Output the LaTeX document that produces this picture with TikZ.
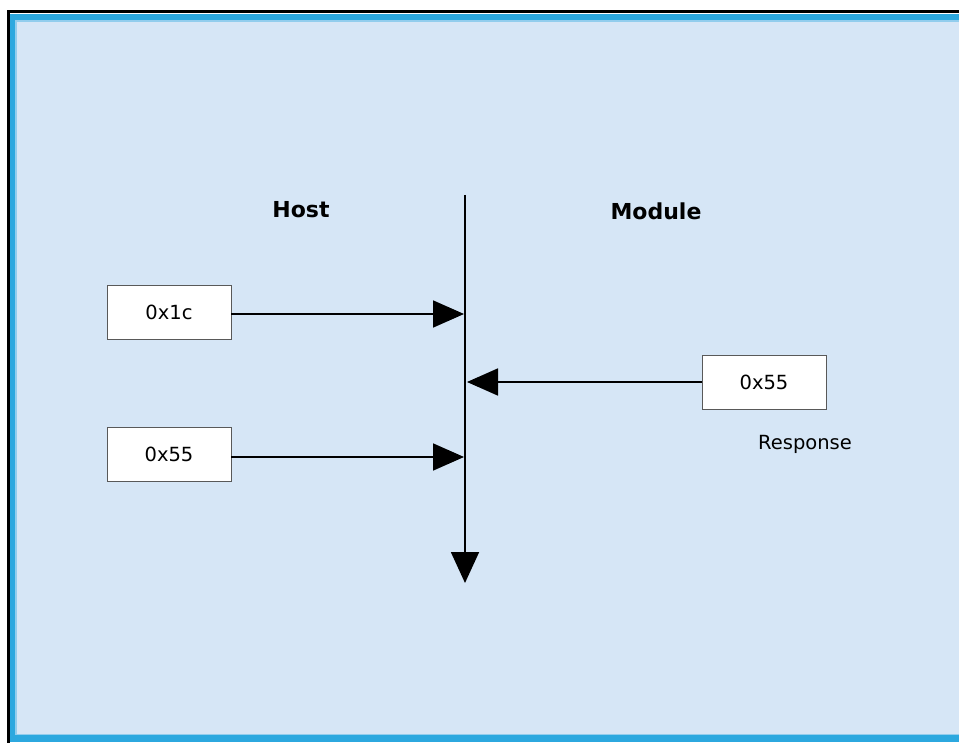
\documentclass[tikz,border=0pt]{standalone}
\usepackage{fontspec}
\setmainfont{DejaVu Sans}
\usetikzlibrary{arrows.meta}
\definecolor{bgfill}{HTML}{D6E6F6}
\definecolor{rimblue}{HTML}{2CA8DF}
\tikzset{
  valbox/.style={draw=black!65, line width=0.9pt, fill=white, minimum width=124pt, minimum height=54pt, inner sep=0pt, font=\fontsize{19.5}{22}\selectfont},
  head/.style={font=\bfseries\fontsize{22}{25}\selectfont},
  lbl/.style={font=\fontsize{19.5}{22}\selectfont},
  msg/.style={draw=black, line width=1.8pt, -{Triangle[length=31pt,width=27pt]}},
}
\begin{document}
\begin{tikzpicture}[x=1pt,y=-1pt]
\useasboundingbox (0,0) rectangle (959,743);
% background
\fill[white] (0,0) rectangle (959,743);
\fill[rimblue] (10,14.5) rectangle (959,741.5);
\fill[rimblue!40!bgfill] (15,20) rectangle (959,735);
\fill[bgfill] (16.5,22) rectangle (959,733.5);
\draw[black, line width=2.5pt] (8.5,743) -- (8.5,11.5) -- (959,11.5);
% timeline
\coordinate (ttop) at (465,195);
\coordinate (tbot) at (465,583);
\draw[draw=black, line width=1.8pt, -{Triangle[length=31pt,width=28pt]}] (ttop) -- (tbot);
\coordinate (t1) at (464,314);
\coordinate (t2) at (467,382);
\coordinate (t3) at (464,457);
% labels
\node[head] (host) at (301,210) {Host};
\node[head] (module) at (656,211) {Module};
% boxes
\node[valbox] (b1) at (169,312) {0x1c};
\node[valbox] (b2) at (169,454) {0x55};
\node[valbox] (b3) at (764,382.5) {0x55};
\node[lbl] (resp) at (805,444) {Response};
% arrows
\draw[msg] (b1.east |- t1) -- (t1);
\draw[msg] (b3.west |- t2) -- (t2);
\draw[msg] (b2.east |- t3) -- (t3);
\end{tikzpicture}
\end{document}
